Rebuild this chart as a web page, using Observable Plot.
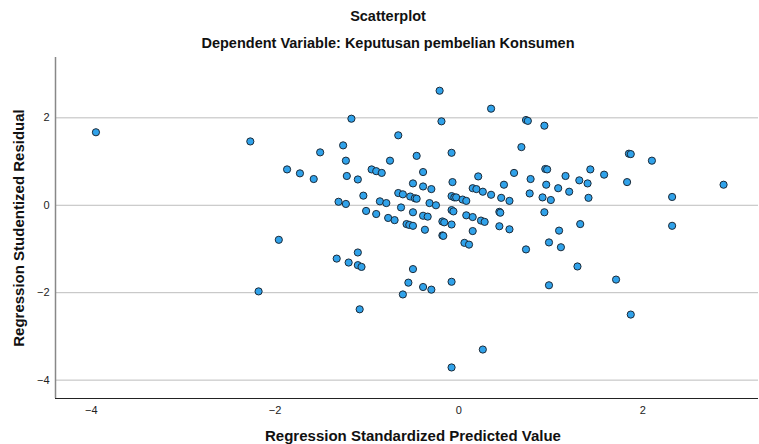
<!DOCTYPE html>
<html>
<head>
<meta charset="utf-8">
<script src="https://cdn.jsdelivr.net/npm/d3@7"></script>
<script src="https://cdn.jsdelivr.net/npm/@observablehq/plot@0.6"></script>
<style>
  body { margin: 0; background: #fff; font-family: "Liberation Sans", Arial, sans-serif; }
  #wrap { position: relative; width: 759px; height: 444px; overflow: hidden; }
  .t { position: absolute; left: 0; width: 776px; text-align: center; font-weight: bold; font-size: 14.5px; color: #111; }
  #t1 { top: 8px; }
  #t2 { top: 35px; }
  #chart { position: absolute; left: 0; top: 52px; }
  #chart svg { overflow: visible; }
  g[aria-label="y-axis label"] text { font-weight: bold; font-size: 15px; fill: #111; }
  g[aria-label="y-axis tick label"] text, g[aria-label="x-axis tick label"] text { font-size: 11px; fill: #222; }
</style>
</head>
<body>
<div id="wrap">
  <div class="t" id="t1">Scatterplot</div>
  <div class="t" id="t2">Dependent Variable: Keputusan pembelian Konsumen</div>
  <div id="chart"></div>
</div>
<script>
const title = "Scatterplot";
const subtitle = "Dependent Variable: Keputusan pembelian Konsumen";
const xLabel = "Regression Standardized Predicted Value";
const yLabel = "Regression Studentized Residual";
const xTicks = [-4, -2, 0, 2];
const yTicks = [2, 0, -2, -4];

const predicted = [
  -3.95, -2.27, -1.87, -1.73, -1.96, -2.18, -1.51, -1.58, -1.26, -1.23,
  -1.17, -1.22, -1.10, -1.04, -1.31, -1.23, -1.01, -0.90, -0.95, -0.90,
  -0.84, -0.86, -0.79, -0.75, -0.66, -0.66, -0.61, -0.63, -0.77, -0.70,
  -0.53, -0.48, -0.46, -0.50, -0.46, -0.39, -0.39, -0.30, -0.32, -0.25,
  -0.50, -0.39, -0.34, -0.57, -0.54, -0.50, -0.37, -0.18, -0.16, -0.18,
  -0.17, -0.21, -0.19, -0.08, -0.07, -0.08, -0.05, -0.03, -0.08, -0.06,
  -0.08, 0.04, 0.08, 0.08, 0.15, 0.15, 0.06, 0.11, 0.15, 0.19,
  0.26, 0.21, 0.35, 0.35, 0.24, 0.28, 0.44, 0.45, 0.44, 0.55,
  0.46, 0.55, 0.49, 0.60, 0.68, 0.73, 0.75, 0.93, 0.78, 0.77,
  0.91, 1.00, 0.93, 0.94, 0.96, 0.95, 1.08, 1.09, 0.73, 0.98,
  1.11, 0.98, 1.29, 1.71, 1.87, 1.32, 2.32, 2.32, 2.88, 1.83,
  1.85, 1.87, 2.10, 1.43, 1.58, 1.16, 1.31, 1.40, 1.20, 1.41,
  -1.33, -1.20, -1.10, -1.10, -1.06, -0.50, -0.55, -0.08, -0.39, -0.30,
  -0.61, -1.08, 0.26, -0.08
];
const residual = [
  1.67, 1.46, 0.82, 0.73, -0.79, -1.97, 1.21, 0.60, 1.37, 1.02,
  1.98, 0.67, 0.59, 0.22, 0.08, 0.03, -0.13, -0.20, 0.82, 0.78,
  0.74, 0.09, 0.05, 1.02, 1.60, 0.28, 0.25, -0.05, -0.29, -0.34,
  0.20, 0.16, 0.15, 0.50, 1.13, 0.76, 0.43, 0.37, 0.05, 0.00,
  -0.16, -0.24, -0.26, -0.43, -0.45, -0.47, -0.56, -0.37, -0.39, -0.69,
  -0.70, 2.62, 1.92, 1.20, 0.53, 0.21, 0.18, 0.18, -0.11, -0.14,
  -0.44, 0.13, 0.10, -0.23, -0.27, -0.59, -0.86, -0.90, 0.39, 0.37,
  0.31, 0.66, 0.24, 2.21, -0.35, -0.38, -0.15, -0.17, -0.48, -0.55,
  0.17, 0.10, 0.47, 0.74, 1.33, 1.95, 1.93, 1.82, 0.60, 0.27,
  0.18, 0.12, -0.16, 0.83, 0.82, 0.47, 0.39, -0.58, -1.01, -0.85,
  -0.96, -1.83, -1.40, -1.70, -2.50, -0.43, -0.47, 0.19, 0.47, 0.53,
  1.18, 1.17, 1.02, 0.82, 0.70, 0.67, 0.57, 0.50, 0.31, 0.17,
  -1.22, -1.31, -1.08, -1.37, -1.41, -1.46, -1.77, -1.75, -1.87, -1.93,
  -2.04, -2.38, -3.30, -3.71
];

document.getElementById("t1").textContent = title;
document.getElementById("t2").textContent = subtitle;

const data = predicted.map((x, i) => ({x, y: residual[i]}));

const chart = Plot.plot({
  width: 759,
  height: 392,
  marginLeft: 55,
  marginRight: 1,
  marginTop: 5,
  marginBottom: 46,
  style: {fontFamily: "'Liberation Sans', Arial, sans-serif", background: "#fff"},
  x: {domain: [-4.39, 3.26], ticks: xTicks, label: null},
  y: {domain: [-4.42, 3.38], ticks: yTicks, label: yLabel},
  marks: [
    Plot.gridY(yTicks, {stroke: "#bdbdbd", strokeOpacity: 1, strokeWidth: 1}),
    Plot.axisY({ticks: yTicks, tickSize: 0, tickPadding: 6, label: yLabel, labelAnchor: "center", labelArrow: "none", labelOffset: 42}),
    Plot.axisX({ticks: xTicks, tickSize: 0, tickPadding: 8, label: null}),
    Plot.text([xLabel], {frameAnchor: "bottom", text: d => d, dx: 6, dy: 38, lineAnchor: "middle", fontWeight: "bold", fontSize: 15, fill: "#111"}),
    Plot.ruleX([-4.39], {stroke: "#888", strokeWidth: 1.5}),
    Plot.ruleY([-4.42], {stroke: "#222", strokeWidth: 1.2}),
    Plot.dot(data, {x: "x", y: "y", r: 3.6, fill: "#30a2ea", stroke: "#1c2a38", strokeWidth: 1})
  ]
});
document.getElementById("chart").appendChild(chart);
</script>
</body>
</html>
